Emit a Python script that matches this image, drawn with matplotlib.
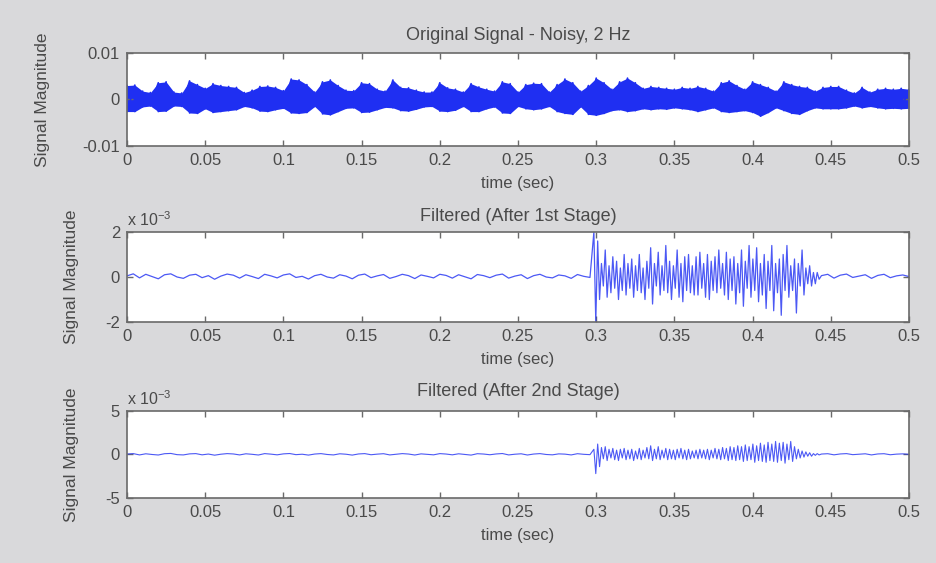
import numpy as np
import matplotlib
matplotlib.use("Agg")
import matplotlib.pyplot as plt

plt.rcParams['font.family'] = ['Liberation Sans', 'DejaVu Sans']

# ---------------- data ----------------
xticks = [0, 0.05, 0.1, 0.15, 0.2, 0.25, 0.3, 0.35, 0.4, 0.45, 0.5]
xticklabels = ['0', '0.05', '0.1', '0.15', '0.2', '0.25', '0.3', '0.35', '0.4', '0.45', '0.5']

# Panel 1: envelope of the noisy original signal, every 5 ms (units of 1e-3)
orig_t = np.round(np.arange(0, 0.5001, 0.005), 3)
orig_upper = [3.0, 3.1, 1.8, 1.5, 3.6, 3.8, 1.6, 1.4, 4.0, 3.2,
              2.4, 3.4, 3.0, 2.8, 2.6, 1.5, 2.0, 2.8, 2.9, 2.6,
              1.9, 4.4, 4.2, 3.2, 1.6, 3.8, 4.2, 3.0, 2.0, 1.9,
              3.6, 3.4, 2.2, 1.8, 4.2, 2.6, 2.5, 2.0, 1.6, 1.6,
              3.6, 2.5, 2.2, 1.6, 3.4, 2.7, 2.2, 1.8, 3.8, 3.4,
              1.6, 3.2, 3.5, 3.4, 1.6, 3.2, 4.4, 3.6, 1.8, 3.0,
              4.6, 3.6, 2.2, 3.8, 4.6, 3.6, 2.4, 2.8, 2.6, 2.4,
              2.2, 2.6, 2.4, 2.8, 2.4, 1.8, 3.6, 4.0, 3.0, 2.2,
              3.8, 3.2, 2.6, 1.8, 3.8, 3.2, 2.8, 2.6, 1.8, 2.6,
              2.8, 2.8, 2.0, 1.4, 2.6, 1.6, 2.2, 2.4, 2.2, 2.4, 2.2]
orig_lower = [2.6, 2.6, 1.6, 1.4, 2.6, 2.5, 1.4, 1.5, 2.9, 3.0,
              2.0, 2.8, 2.6, 2.4, 2.2, 1.5, 1.8, 2.5, 2.6, 2.2,
              1.9, 2.9, 3.0, 2.8, 1.5, 3.1, 3.3, 2.6, 1.9, 1.8,
              2.8, 2.7, 2.2, 1.7, 1.8, 2.4, 2.5, 2.1, 1.6, 1.5,
              2.5, 2.6, 2.3, 1.5, 2.6, 2.6, 2.0, 1.6, 2.9, 3.0,
              1.5, 2.0, 2.2, 2.0, 1.5, 2.6, 3.0, 3.2, 1.6, 3.2,
              3.4, 3.0, 2.4, 2.2, 2.6, 2.4, 2.0, 2.2, 2.0, 2.1,
              1.8, 2.0, 2.2, 2.6, 2.2, 1.8, 2.6, 2.8, 2.6, 2.4,
              2.8, 3.6, 2.8, 1.8, 2.4, 3.0, 3.2, 2.4, 1.8, 2.0,
              2.0, 2.0, 1.8, 1.4, 1.8, 1.5, 1.8, 2.0, 1.9, 2.0, 1.9]

# Panel 2: after 1st stage (units of 1e-3)
f1_quiet_a = [0.05, 0.14, -0.04, 0.12, 0.02, -0.08, 0.10, 0.14, 0.00, -0.06,
              0.08, 0.12, -0.03, 0.06, -0.10, 0.04, 0.13, 0.08, -0.05, 0.10,
              0.02, -0.07, 0.12, 0.05, -0.04, 0.09, 0.14, -0.02, 0.03, -0.09,
              0.06, 0.12, 0.00, -0.05, 0.10, 0.04, -0.08, 0.08, 0.13, -0.03,
              0.05, 0.11, -0.06, 0.02, 0.12, 0.06, -0.07, 0.09, 0.03, -0.04,
              0.12, 0.07, -0.05, 0.10, 0.01, -0.08, 0.11, 0.06, -0.03, 0.08,
              0.13, -0.05, 0.04, 0.10, -0.07, 0.06, 0.12, 0.00, -0.04, 0.09,
              0.05, -0.06, 0.11, 0.03, -0.02]
f1_burst = [2.0, -2.0, 1.6, -1.0, 0.6, -0.4, 1.2, -0.9, 0.5, -0.7,
            0.9, -0.5, 0.7, -1.0, 0.4, -0.6, 1.0, -0.8, 0.6, -0.5,
            0.8, -0.9, 0.5, -0.6, 1.0, -0.7, 0.4, -1.0, 0.7, -0.5,
            1.3, -1.2, 0.6, -0.4, 1.1, -0.8, 0.5, -0.6, 1.4, -0.7,
            0.7, -1.0, 0.5, -0.5, 1.2, -0.9, 0.6, -1.1, 0.9, -0.6,
            1.0, -0.7, 0.5, -0.8, 0.9, -0.8, 1.1, -0.5, 0.6, -0.9,
            1.0, -1.0, 0.7, -0.6, 0.9, -0.7, 1.2, -0.5, 0.6, -0.8,
            1.1, -1.0, 0.8, -0.6, 0.9, -1.2, 0.6, -0.7, 1.2, -1.3,
            0.7, -0.5, 1.4, -0.9, 0.8, -0.6, 1.3, -1.1, 0.6, -0.8,
            1.0, -1.4, 0.7, -0.6, 1.4, -1.5, 0.6, -0.7, 0.8, -1.7,
            1.0, -0.6, 1.4, -0.9, 0.5, -0.6, 0.8, -1.6, 0.6, -0.4,
            1.2, -0.8, 0.4, -0.3, 0.5, -0.4, 0.2, -0.3, 0.2, -0.1]
f1_quiet_b = [0.06, 0.12, -0.05, 0.08, 0.13, -0.02, 0.04, 0.10, -0.06, 0.07,
              0.12, -0.03, 0.05, 0.09, 0.02]

# Panel 3: after 2nd stage (units of 1e-3)
f2_quiet_a = [0.05, 0.10, -0.05, 0.08, 0.00, -0.06, 0.09, 0.12, -0.02, -0.05,
              0.07, 0.10, -0.04, 0.05, -0.08, 0.03, 0.10, 0.06, -0.05, 0.08,
              0.02, -0.06, 0.10, 0.04, -0.04, 0.07, 0.11, -0.02, 0.03, -0.07,
              0.05, 0.10, 0.00, -0.05, 0.08, 0.03, -0.07, 0.06, 0.10, -0.03,
              0.04, 0.09, -0.05, 0.02, 0.10, 0.05, -0.06, 0.07, 0.02, -0.04,
              0.10, 0.05, -0.04, 0.08, 0.01, -0.07, 0.09, 0.05, -0.03, 0.06,
              0.11, -0.05, 0.03, 0.08, -0.06, 0.05, 0.10, 0.00, -0.04, 0.07,
              0.04, -0.05, 0.09, 0.02, -0.02]
f2_burst = [0.6, -2.2, 1.2, -1.4, 0.8, -0.5, 0.9, -0.7, 0.6, -0.4,
            0.7, -0.6, 0.5, -0.7, 0.6, -0.4, 0.7, -0.6, 0.5, -0.5,
            0.6, -0.7, 0.4, -0.5, 0.7, -0.6, 0.5, -0.4, 0.8, -0.5,
            1.0, -0.7, 0.6, -0.5, 0.9, -0.6, 0.5, -0.4, 0.7, -0.6,
            0.6, -0.5, 0.5, -0.6, 0.6, -0.4, 0.7, -0.5, 0.5, -0.6,
            0.6, -0.5, 0.4, -0.4, 0.5, -0.5, 0.6, -0.4, 0.5, -0.5,
            0.6, -0.6, 0.5, -0.4, 0.7, -0.5, 0.6, -0.6, 0.8, -0.5,
            0.7, -0.7, 0.9, -0.6, 0.8, -0.7, 1.0, -0.6, 0.9, -0.8,
            1.1, -0.7, 0.9, -0.6, 1.2, -0.9, 1.0, -0.7, 1.3, -0.8,
            1.1, -0.9, 1.4, -0.7, 1.2, -0.8, 1.5, -0.9, 1.3, -0.7,
            1.4, -1.0, 1.2, -0.6, 1.5, -0.8, 0.9, -0.5, 0.6, -0.4,
            0.4, -0.3, 0.3, -0.2, 0.2, -0.2, 0.1, -0.1, 0.1, -0.05]
f2_quiet_b = [0.05, 0.09, -0.04, 0.06, 0.10, -0.02, 0.03, 0.08, -0.05, 0.06,
              0.09, -0.03, 0.04, 0.07, 0.02]

titles = ['Original Signal - Noisy, 2 Hz', 'Filtered (After 1st Stage)', 'Filtered (After 2nd Stage)']

# ---------------- drawing ----------------
BLUE = '#1f2ff2'
TXT = '#4a4a4a'
BG = '#d9d9db'

fig = plt.figure(figsize=(9.36, 5.63), dpi=100, facecolor=BG)
rects = [[0.1357, 0.7407, 0.8355, 0.1652],
         [0.1357, 0.4280, 0.8355, 0.1600],
         [0.1357, 0.1155, 0.8355, 0.1545]]
axes = [fig.add_axes(r) for r in rects]


def build(qa, burst, qb):
    ta = np.linspace(0.0, 0.296, len(qa))
    tb = np.linspace(0.2985, 0.4425, len(burst))
    tc = np.linspace(0.444, 0.5, len(qb))
    return np.concatenate([ta, tb, tc]), np.concatenate([qa, burst, qb])

# panel 1
ax = axes[0]
up = np.array(orig_upper) * 1e-3
lo = -np.array(orig_lower) * 1e-3
ax.fill_between(orig_t, lo, up, color=BLUE, lw=0)
zig_t = np.repeat(orig_t, 2)
zig_y = np.empty(2 * len(orig_t))
zig_y[0::2] = up
zig_y[1::2] = lo
ax.plot(zig_t, zig_y, color=BLUE, lw=1.2)
ax.set_ylim(-0.01, 0.01)
ax.set_yticks([-0.01, 0, 0.01])
ax.set_yticklabels(['-0.01', '0', '0.01'])

# panel 2
ax = axes[1]
t, y = build(f1_quiet_a, f1_burst, f1_quiet_b)
ax.plot(t, y, color=BLUE, lw=0.9, alpha=0.8)
ax.set_ylim(-2, 2)
ax.set_yticks([-2, 0, 2])
ax.set_yticklabels(['-2', '0', '2'])

# panel 3
ax = axes[2]
t, y = build(f2_quiet_a, f2_burst, f2_quiet_b)
ax.plot(t, y, color=BLUE, lw=0.8, alpha=0.8)
ax.set_ylim(-5, 5)
ax.set_yticks([-5, 0, 5])
ax.set_yticklabels(['-5', '0', '5'])

title_pads = [9, 8, 11]
ylabel_pads = [23, 19, 19]
for i, ax in enumerate(axes):
    ax.set_facecolor('white')
    ax.set_xlim(0, 0.5)
    ax.set_xticks(xticks)
    ax.set_xticklabels(xticklabels)
    for s in ax.spines.values():
        s.set_color('#6a6a6a')
        s.set_linewidth(1.2)
    ax.tick_params(direction='in', length=4, width=1, color='#6a6a6a',
                   top=True, right=True, labelsize=12, labelcolor=TXT, pad=5)
    ax.set_xlabel('time (sec)', fontsize=12, color=TXT, labelpad=6)
    ax.set_ylabel('Signal Magnitude', fontsize=12.5, color=TXT, labelpad=ylabel_pads[i])
    ax.set_title(titles[i], fontsize=13, color=TXT, pad=title_pads[i])
    if i > 0:
        ax.text(0.0, 1.03, r'x 10$^{\mathregular{-3}}$', transform=ax.transAxes,
                fontsize=11.5, color=TXT, ha='left', va='bottom')

fig.savefig('out.png', dpi=100, facecolor=BG)
